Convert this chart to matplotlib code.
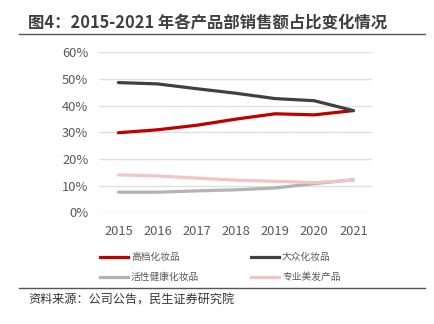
import matplotlib.pyplot as plt
from matplotlib.lines import Line2D
from matplotlib.ticker import PercentFormatter

plt.rcParams['font.family'] = ['Noto Sans CJK SC', 'DejaVu Sans']

years = [2015, 2016, 2017, 2018, 2019, 2020, 2021]
high_end = [29.8, 30.9, 32.6, 34.9, 36.9, 36.5, 38.1]
mass = [48.6, 48.1, 46.3, 44.6, 42.6, 41.8, 38.1]
active_health = [7.5, 7.5, 8.0, 8.4, 9.1, 10.7, 12.2]
professional = [14.0, 13.6, 12.8, 12.0, 11.6, 11.1, 12.0]

series = [
    ("高档化妆品", high_end, "#C00000"),
    ("大众化妆品", mass, "#404040"),
    ("活性健康化妆品", active_health, "#B3B3B3"),
    ("专业美发产品", professional, "#F2C4C4"),
]

fig = plt.figure(figsize=(4.34, 3.24), dpi=100)
ax = fig.add_axes([0.229, 0.345, 0.629, 0.494])

for name, vals, col in series:
    ax.plot(years, vals, color=col, lw=2.3, solid_capstyle="round", label=name)

ax.set_ylim(0, 60)
ax.set_xlim(2014.515, 2021.485)
ax.set_yticks(range(0, 61, 10))
ax.set_xticks(years)
ax.yaxis.set_major_formatter(PercentFormatter(decimals=0))
ax.grid(axis="y", color="#E0E0E0", lw=1)
ax.set_axisbelow(True)
for s in ax.spines.values():
    s.set_visible(False)
ax.tick_params(length=0, colors="#595959", labelsize=9.3)
ax.tick_params(axis="x", pad=9)
ax.tick_params(axis="y", pad=8)

# title and rules
fig.text(28 / 434, 1 - 24 / 324, "图4：2015-2021 年各产品部销售额占比变化情况",
         fontsize=11.8, fontweight="bold", color="#404040", va="center")
fig.add_artist(Line2D([19 / 434, 425 / 434], [1 - 34 / 324] * 2, color="#555555", lw=1))
fig.add_artist(Line2D([19 / 434, 425 / 434], [1 - 288 / 324] * 2, color="#555555", lw=1))
fig.text(28 / 434, 1 - 300 / 324, "资料来源：公司公告，民生证券研究院",
         fontsize=8.7, color="#333333", va="center")

# legend
pos = [(100, 257), (251, 257), (100, 277), (251, 277)]
for (name, vals, col), (px, py) in zip(series, pos):
    y = 1 - py / 324
    fig.add_artist(Line2D([px / 434, (px + 28) / 434], [y, y], color=col, lw=2.3))
    fig.text((px + 31) / 434, y, name, fontsize=7, color="#595959", va="center")

fig.savefig("out.png", dpi=100)
